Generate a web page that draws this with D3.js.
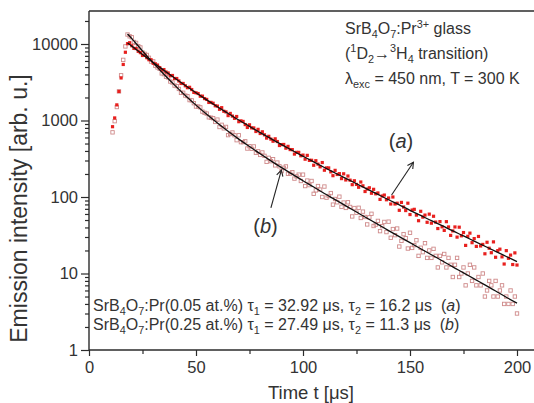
<!DOCTYPE html>
<html>
<head>
<meta charset="utf-8">
<script src="https://cdn.jsdelivr.net/npm/d3@7"></script>
<style>
body { margin: 0; background: #fff; }
svg { display: block; font-family: "Liberation Sans", Arial, sans-serif; }
</style>
</head>
<body>
<div id="chart"></div>
<script>
// samples start at t = 11 µs, one every 1 µs up to 200 µs
const sampleStart = 11;

// SrB4O7:Pr(0.05 at.%)  (a) - filled squares
const seriesA = [
  830, 1080, 1600, 2400, 3600, 5400, 7800, 10100, 10400,
  9480, 8770, 8720, 8022, 7712, 7084, 7108, 6633, 6231, 6226,
  5593, 5504, 5303, 4919, 4576, 4630, 4302, 4180, 3856, 3876,
  3539, 3537, 3291, 3048, 3049, 2845, 2685, 2716, 2539, 2330,
  2302, 2252, 2077, 2081, 1934, 1886, 1722, 1724, 1682, 1559,
  1542, 1401, 1471, 1321, 1296, 1159, 1237, 1142, 1068, 1128,
  965, 989, 972, 885, 811, 878, 801, 799, 718, 766,
  676, 712, 650, 589, 621, 571, 536, 576, 531, 471,
  484, 486, 435, 459, 417, 416, 364, 383, 383, 346,
  353, 312, 350, 301, 302, 260, 298, 269, 248, 282,
  224, 240, 240, 213, 190, 223, 197, 202, 174, 201,
  167, 188, 166, 145, 163, 146, 134, 157, 140, 118,
  127, 132, 112, 126, 110, 113, 93, 103, 106, 92,
  97, 81, 100, 81, 83, 67, 85, 74, 66.5, 83,
  59, 67.5, 69, 58, 49, 65, 54.6, 58, 46.7, 59.7,
  45.5, 56, 47, 38.7, 47.7, 40.7, 36.6, 47.6, 40.6, 31.5,
  36, 40.6, 29.9, 40.3, 31.1, 34.3, 23.3, 30.6, 33.7, 25.3,
  28.6, 22.6, 30.5, 22.9, 24, 18.1, 25.6, 21.4, 18.7, 25.9,
  16.3, 19.9, 20.8, 16.5, 13.3, 19.9, 15.8, 17.4, 13.1, 18.6,
  12.9
];

// SrB4O7:Pr(0.25 at.%)  (b) - open squares
const seriesB = [
  700, 980, 1500, 2400, 3900, 6200, 9300, 13300, 12600,
  12250, 10620, 10330, 9367, 9016, 7735, 7443, 7187, 6599, 5891,
  5927, 5193, 4939, 4738, 4127, 4038, 3731, 3658, 3229, 3139,
  2860, 2814, 2586, 2297, 2305, 2117, 2080, 1848, 1834, 1684,
  1522, 1523, 1486, 1307, 1260, 1231, 1100, 1088, 1071, 958,
  1027, 822, 878, 789, 824, 644, 667, 697, 641, 553,
  641, 521, 522, 535, 430, 461, 427, 458, 378, 396,
  355, 382, 345, 288, 325, 294, 312, 259, 282, 252,
  218, 241, 251, 201, 202, 211, 174, 186, 196, 162,
  196, 139, 164, 143, 162, 110, 122, 139, 125, 100,
  137, 98, 103, 112.5, 79.5, 94.2, 85.3, 101, 74.4, 84.6,
  72, 85.3, 74.1, 55.7, 71.7, 62.3, 72.3, 53.2, 64.4, 54.8,
  43.8, 54.2, 60.3, 41.8, 43.6, 48.7, 35.8, 41.6, 47.2, 34.8,
  47.6, 29.3, 38.1, 31.7, 38.7, 22.5, 26.7, 32.7, 28.9, 21.2,
  34.1, 21.6, 23.5, 27.2, 17, 21.7, 19, 24.9, 16, 20,
  16, 21, 17, 12, 17, 14, 18, 12, 16, 13,
  9, 13, 16, 9, 10, 12, 7, 10, 13, 8,
  12, 7, 9, 7, 10, 5, 6, 8, 7, 5,
  8, 5, 6, 7, 4, 5, 4, 6, 4, 5,
  3
];

// fitted biexponential curves, read every 5 µs
const fitTimes = [18, 20, 25, 30, 35, 40, 45, 50, 55, 60, 65, 70, 75, 80, 85, 90, 95, 100,
  105, 110, 115, 120, 125, 130, 135, 140, 145, 150, 155, 160, 165, 170, 175, 180, 185, 190, 195, 200];
const fitA = [10300, 9380, 7311, 5732, 4521, 3589, 2865, 2302, 1860, 1511, 1236, 1014, 838, 695,
  579, 484, 405, 341, 288, 243, 206, 175, 149, 127, 108, 92, 79, 67, 57.4, 49, 42.2, 36, 31,
  26.5, 22.7, 19.5, 16.7, 14.3];
const fitB = [13500, 11767, 8108, 5666, 4020, 2900, 2127, 1588, 1203, 926, 723, 571, 456, 367,
  297, 242, 199, 163, 135, 111, 92.3, 76.6, 63.6, 52.8, 43.9, 36.4, 30.3, 25.3, 21.1, 17.6,
  14.7, 12.2, 10.2, 8.5, 7.1, 5.9, 4.9, 4.1];

const xTicks = [0, 50, 100, 150, 200];
const xMinorTicks = [25, 75, 125, 175];
const yTicks = [1, 10, 100, 1000, 10000];

const width = 534, height = 403;

const svg = d3.select("#chart").append("svg")
    .attr("width", width)
    .attr("height", height);

const x = d3.scaleLinear().domain([0, 200]).range([89, 517]);
const y = d3.scaleLog().domain([1, 27000]).range([350, 11]);

const axisColor = "#2b2b2b";
const textColor = "#333";

// minor log ticks 2..9 of each decade
let yMinor = [];
yTicks.forEach(d => {
    for (let m = 2; m <= 9; m++) {
        if (d * m <= y.domain()[1]) yMinor.push(d * m);
    }
});

// frame: left, bottom and top lines (right side runs off the picture)
const frame = svg.append("g").attr("stroke", axisColor).attr("stroke-width", 1.4);
frame.append("line").attr("x1", x(0)).attr("x2", x(0)).attr("y1", y.range()[1]).attr("y2", y.range()[0]);
frame.append("line").attr("x1", x(0)).attr("x2", width).attr("y1", y.range()[0]).attr("y2", y.range()[0]);
frame.append("line").attr("x1", x(0)).attr("x2", width).attr("y1", y.range()[1]).attr("y2", y.range()[1]);

function styleAxis(g) {
    g.select(".domain").remove();
    g.selectAll(".tick line").attr("stroke", axisColor).attr("stroke-width", 1.2);
    g.selectAll(".tick text").attr("fill", textColor)
        .style("font-family", "'Liberation Sans', Arial, sans-serif")
        .style("font-size", "16.5px");
}

svg.append("g")
    .attr("transform", `translate(0,${y.range()[0]})`)
    .call(d3.axisBottom(x).tickValues(xTicks).tickSize(6).tickPadding(5).tickFormat(d3.format("d")))
    .call(styleAxis);

svg.append("g")
    .attr("transform", `translate(0,${y.range()[0]})`)
    .call(d3.axisBottom(x).tickValues(xMinorTicks).tickSize(4).tickFormat(""))
    .call(styleAxis);

svg.append("g")
    .attr("transform", `translate(${x(0)},0)`)
    .call(d3.axisLeft(y).tickValues(yTicks).tickSize(8).tickPadding(3).tickFormat(d3.format("d")))
    .call(styleAxis);

svg.append("g")
    .attr("transform", `translate(${x(0)},0)`)
    .call(d3.axisLeft(y).tickValues(yMinor).tickSize(4).tickFormat(""))
    .call(styleAxis);

// axis titles
svg.append("text")
    .attr("transform", `translate(27,${(y.range()[0] + y.range()[1]) / 2 + 28}) rotate(-90)`)
    .attr("text-anchor", "middle")
    .attr("fill", textColor)
    .style("font-size", "23px")
    .text("Emission intensity [arb. u.]");

svg.append("text")
    .attr("x", 311)
    .attr("y", 399)
    .attr("text-anchor", "middle")
    .attr("fill", textColor)
    .style("font-size", "18.5px")
    .text("Time t [\u03bcs]");

// data points
const sampleTime = i => sampleStart + i;
const plot = svg.append("g");

plot.append("g").selectAll("rect")
    .data(seriesB)
    .join("rect")
        .attr("x", (d, i) => x(sampleTime(i)) - 1.7)
        .attr("y", d => y(d) - 1.7)
        .attr("width", 3.4)
        .attr("height", 3.4)
        .attr("fill", "none")
        .attr("stroke", "#cf8a8a")
        .attr("stroke-width", 0.9);

plot.append("g").selectAll("rect")
    .data(seriesA)
    .join("rect")
        .attr("x", (d, i) => x(sampleTime(i)) - 1.6)
        .attr("y", d => y(d) - 1.6)
        .attr("width", 3.2)
        .attr("height", 3.2)
        .attr("fill", "#e8201e");

// fit curves
const fitLine = vals => d3.line()
    .x((d, i) => x(fitTimes[i]))
    .y(d => y(d))
    .curve(d3.curveMonotoneX)(vals);

[fitA, fitB].forEach(vals => {
    plot.append("path")
        .attr("d", fitLine(vals))
        .attr("fill", "none")
        .attr("stroke", "#111")
        .attr("stroke-width", 1.3);
});

// arrows pointing at the curves
svg.append("defs").append("marker")
    .attr("id", "head")
    .attr("viewBox", "-8 -5 10 10")
    .attr("markerWidth", 10)
    .attr("markerHeight", 10)
    .attr("markerUnits", "userSpaceOnUse")
    .attr("orient", "auto")
    .append("path")
        .attr("d", "M-6,-3.2L0,0L-6,3.2")
        .attr("fill", "none")
        .attr("stroke", "#222")
        .attr("stroke-width", 1.1);

const notes = [
    {label: "a", from: [141.4, 106], to: [151.6, 285], text: [145.8, 437]},
    {label: "b", from: [85, 72], to: [89.9, 225], text: [82.5, 33.8]}
];

notes.forEach(n => {
    svg.append("line")
        .attr("x1", x(n.from[0])).attr("y1", y(n.from[1]))
        .attr("x2", x(n.to[0])).attr("y2", y(n.to[1]))
        .attr("stroke", "#222")
        .attr("stroke-width", 1.1)
        .attr("marker-end", "url(#head)");
    const t = svg.append("text")
        .attr("x", x(n.text[0]))
        .attr("y", y(n.text[1]))
        .attr("text-anchor", "middle")
        .attr("fill", textColor)
        .style("font-size", "20px");
    t.append("tspan").text("(");
    t.append("tspan").style("font-style", "italic").text(n.label);
    t.append("tspan").text(")");
});

// rich text helper: parts are [text, kind] with kind "sub", "sup", "i" or none
function richText(g, px, py, size, parts) {
    const t = g.append("text")
        .attr("x", px).attr("y", py)
        .attr("fill", textColor)
        .attr("xml:space", "preserve")
        .style("white-space", "pre")
        .style("font-size", size + "px");
    let shift = 0;
    parts.forEach(([s, kind]) => {
        let target = kind === "sub" ? size * 0.28 : kind === "sup" ? -size * 0.38 : 0;
        const sp = t.append("tspan").attr("dy", target - shift).text(s);
        if (kind === "sub" || kind === "sup") sp.style("font-size", (size * 0.68) + "px");
        if (kind === "i") sp.style("font-style", "italic");
        shift = target;
    });
    return t;
}

const notesTop = svg.append("g");
richText(notesTop, 345, 34, 16, [["SrB"], ["4", "sub"], ["O"], ["7", "sub"], [":Pr"], ["3+", "sup"], [" glass"]]);
richText(notesTop, 345, 58.5, 16, [["("], ["1", "sup"], ["D"], ["2", "sub"], ["\u2192"], ["3", "sup"], ["H"], ["4", "sub"], [" transition)"]]);
richText(notesTop, 345, 83.5, 16, [["\u03bb"], ["exc", "sub"], [" = 450 nm, T = 300 K"]]);

richText(notesTop, 93, 311, 16, [["SrB"], ["4", "sub"], ["O"], ["7", "sub"], [":Pr(0.05 at.%) \u03c4"], ["1", "sub"],
    [" = 32.92 \u03bcs, \u03c4"], ["2", "sub"], [" = 16.2 \u03bcs  ("], ["a", "i"], [")"]]);
richText(notesTop, 93, 330, 16, [["SrB"], ["4", "sub"], ["O"], ["7", "sub"], [":Pr(0.25 at.%) \u03c4"], ["1", "sub"],
    [" = 27.49 \u03bcs, \u03c4"], ["2", "sub"], [" = 11.3 \u03bcs  ("], ["b", "i"], [")"]]);
</script>
</body>
</html>
